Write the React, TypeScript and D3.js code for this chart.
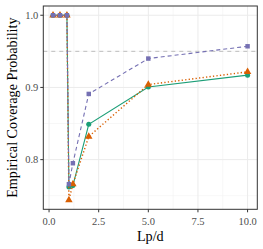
import React from "react";
import * as d3 from "d3";

const xValues = [0.2, 0.55, 0.9, 1.0, 1.2, 2, 5, 10];
const greenValues = [1, 1, 1, 0.762, 0.764, 0.849, 0.9005, 0.917];
const orangeValues = [1, 1, 1, 0.744, 0.766, 0.832, 0.904, 0.9216];
const purpleValues = [1, 1, 1, 0.766, 0.795, 0.891, 0.94, 0.957];
const xTicks = [0, 2.5, 5, 7.5, 10];
const yTicks = [0.8, 0.9, 1.0];
const refLine = 0.95;

const series = [
  { name: "green", values: greenValues, color: "#1b9e77", dash: "none", width: 1.1, shape: d3.symbolCircle, size: 20 },
  { name: "orange", values: orangeValues, color: "#d95f02", dash: "1.3,2.2", width: 1.4, shape: d3.symbolTriangle, size: 24 },
  { name: "purple", values: purpleValues, color: "#7570b3", dash: "4,3", width: 1.1, shape: d3.symbolSquare, size: 20 },
];

const W = 263;
const H = 249;
const margin = { top: 6, right: 5.7, bottom: 39.7, left: 43.3 };

export default function App() {
  const allY = [...greenValues, ...orangeValues, ...purpleValues];
  const xExt = d3.extent(xValues) as [number, number];
  const yExt = d3.extent(allY) as [number, number];
  const xPad = (xExt[1] - xExt[0]) * 0.05;
  const yPad = (yExt[1] - yExt[0]) * 0.05;

  const x = d3.scaleLinear()
    .domain([xExt[0] - xPad, xExt[1] + xPad])
    .range([margin.left, W - margin.right]);
  const y = d3.scaleLinear()
    .domain([yExt[0] - yPad, yExt[1] + yPad])
    .range([H - margin.bottom, margin.top]);

  const xMinor = xTicks.slice(0, -1).map((t, i) => (t + xTicks[i + 1]) / 2);
  const yMinor = [0.75, 0.85, 0.95];

  const line = d3.line<number>()
    .x((d, i) => x(xValues[i]))
    .y(d => y(d));

  const left = margin.left, right = W - margin.right, top = margin.top, bottom = H - margin.bottom;
  const font = "'Times New Roman', 'Liberation Serif', serif";

  return (
    <svg width={W} height={H} style={{ position: "absolute", left: 0, top: 0, background: "white", fontFamily: font }}>
      <rect x={left} y={top} width={right - left} height={bottom - top} fill="white" />
      {xMinor.map(t => (
        <line key={"xm" + t} x1={x(t)} x2={x(t)} y1={top} y2={bottom} stroke="#f2f2f2" strokeWidth={0.6} />
      ))}
      {yMinor.map(t => (
        <line key={"ym" + t} x1={left} x2={right} y1={y(t)} y2={y(t)} stroke="#f2f2f2" strokeWidth={0.6} />
      ))}
      {xTicks.map(t => (
        <line key={"xg" + t} x1={x(t)} x2={x(t)} y1={top} y2={bottom} stroke="#ebebeb" strokeWidth={1} />
      ))}
      {yTicks.map(t => (
        <line key={"yg" + t} x1={left} x2={right} y1={y(t)} y2={y(t)} stroke="#ebebeb" strokeWidth={1} />
      ))}
      <line x1={left} x2={right} y1={y(refLine)} y2={y(refLine)} stroke="#bdbdbd" strokeWidth={1} strokeDasharray="4,4" />
      {series.map(s => (
        <g key={s.name}>
          <path d={line(s.values) || ""} fill="none" stroke={s.color} strokeWidth={s.width}
            strokeDasharray={s.dash} />
          {s.values.map((v, i) => (
            <path
              key={i}
              d={d3.symbol().type(s.shape).size(s.size)() || ""}
              transform={`translate(${x(xValues[i])},${y(v)})`}
              fill={s.color}
            />
          ))}
        </g>
      ))}
      <rect x={left} y={top} width={right - left} height={bottom - top} fill="none" stroke="#333333" strokeWidth={1} />
      {xTicks.map(t => (
        <g key={"xt" + t}>
          <line x1={x(t)} x2={x(t)} y1={bottom} y2={bottom + 3} stroke="#333333" strokeWidth={1} />
          <text x={x(t)} y={bottom + 16} textAnchor="middle" fontSize={10.5} fill="#4d4d4d">
            {d3.format(".1f")(t)}
          </text>
        </g>
      ))}
      {yTicks.map(t => (
        <g key={"yt" + t}>
          <line x1={left - 3} x2={left} y1={y(t)} y2={y(t)} stroke="#333333" strokeWidth={1} />
          <text x={left - 5} y={y(t)} dy="0.35em" textAnchor="end" fontSize={10.5} fill="#4d4d4d">
            {d3.format(".1f")(t)}
          </text>
        </g>
      ))}
      <text x={(left + right) / 2} y={241} textAnchor="middle" fontSize={14.2} fill="black">
        Lp/d
      </text>
      <text
        transform={`translate(17,${(top + bottom) / 2}) rotate(-90)`}
        textAnchor="middle"
        fontSize={14.2}
        fill="black"
      >
        Empirical Coverage Probability
      </text>
    </svg>
  );
}
